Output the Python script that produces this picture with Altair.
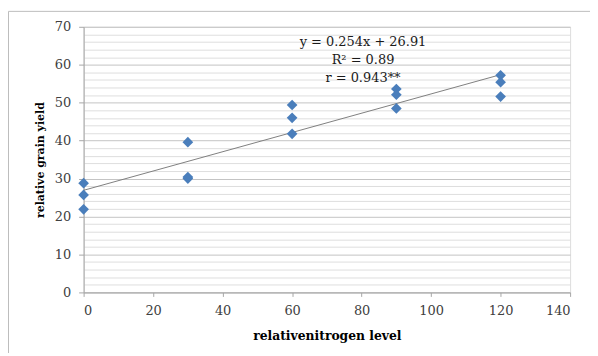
import altair as alt
import pandas as pd

# ---- data ----
nitrogen = [0, 0, 0, 30, 30, 30, 60, 60, 60, 90, 90, 90, 120, 120, 120]
grain = [28.8, 25.7, 21.9, 39.6, 30.4, 30.0, 49.4, 46.0, 41.8, 53.6, 52.1, 48.5, 57.2, 55.4, 51.6]
trend_x = [0, 120]
trend_y = [26.91, 57.39]
ann_text = ["y = 0.254x + 26.91", "R\u00b2 = 0.89", "r = 0.943**"]
ann_x = [80.4, 80.4, 80.4]
ann_y = [66.0, 61.2, 56.4]
x_ticks = [0, 20, 40, 60, 80, 100, 120, 140]
y_ticks = [0, 2, 4, 6, 8, 10, 12, 14, 16, 18, 20, 22, 24, 26, 28, 30, 32, 34,
           36, 38, 40, 42, 44, 46, 48, 50, 52, 54, 56, 58, 60, 62, 64, 66, 68, 70]

FONT = "DejaVu Serif"

pts = pd.DataFrame({"n": nitrogen, "g": grain})
trend = pd.DataFrame({"n": trend_x, "g": trend_y})
ann = pd.DataFrame({"n": ann_x, "g": ann_y, "t": ann_text})

xscale = alt.Scale(domain=[0, 140], nice=False, zero=False)
yscale = alt.Scale(domain=[0, 70], nice=False, zero=False)

major = "datum.value % 10 === 0"

xaxis = alt.Axis(
    values=x_ticks, tickCount=20, title="relativenitrogen level", grid=False,
    labelFont=FONT, labelFontSize=13, labelColor="#404040", labelPadding=8,
    labelOverlap=False,
    titleFont=FONT, titleFontSize=12.4, titleFontWeight="bold", titleColor="#000000",
    titlePadding=12, domainColor="#a6a6a6", tickColor="#a6a6a6", tickSize=4,
)
yaxis = alt.Axis(
    values=y_ticks, tickCount=50, title="relative grain yield",
    labelExpr=f"{major} ? datum.label : ''",
    labelOverlap=False,
    labelFont=FONT, labelFontSize=13, labelColor="#404040", labelPadding=8,
    titleFont=FONT, titleFontSize=11, titleFontWeight="bold", titleColor="#000000",
    titlePadding=9, domainColor="#a6a6a6", tickColor="#a6a6a6", tickSize=5,
    tickOpacity={"condition": {"test": major, "value": 1}, "value": 0},
    grid=True,
    gridColor={"condition": {"test": major, "value": "#c4c4c4"}, "value": "#dedede"},
    gridWidth=1,
)

frame = alt.Chart(pd.DataFrame({"a": [0]})).mark_rect(
    fill="transparent", stroke="#bcbcbc", strokeWidth=1
).encode(x=alt.value(-75.5), x2=alt.value(800), y=alt.value(-15.5), y2=alt.value(600))

line = alt.Chart(trend).mark_line(color="#7f7f7f", strokeWidth=1).encode(
    x=alt.X("n:Q", scale=xscale, axis=xaxis),
    y=alt.Y("g:Q", scale=yscale, axis=yaxis),
)

points = alt.Chart(pts).mark_point(
    shape="diamond", filled=True, size=115, color="#4A7EBB", opacity=1
).encode(
    x=alt.X("n:Q", scale=xscale),
    y=alt.Y("g:Q", scale=yscale),
)

labels = alt.Chart(ann).mark_text(
    font=FONT, fontSize=13, color="#1a1a1a", align="center", baseline="middle"
).encode(
    x=alt.X("n:Q", scale=xscale),
    y=alt.Y("g:Q", scale=yscale),
    text="t:N",
)

chart = alt.layer(line, points, labels, frame).properties(
    width=489, height=267,
    padding={"left": 76, "top": 18, "right": 20, "bottom": 60},
    autosize=alt.AutoSizeParams(type="none"),
).configure_view(stroke=None).configure(background="white")

chart.save("out.html", embed_options={"renderer": "svg", "actions": False})
